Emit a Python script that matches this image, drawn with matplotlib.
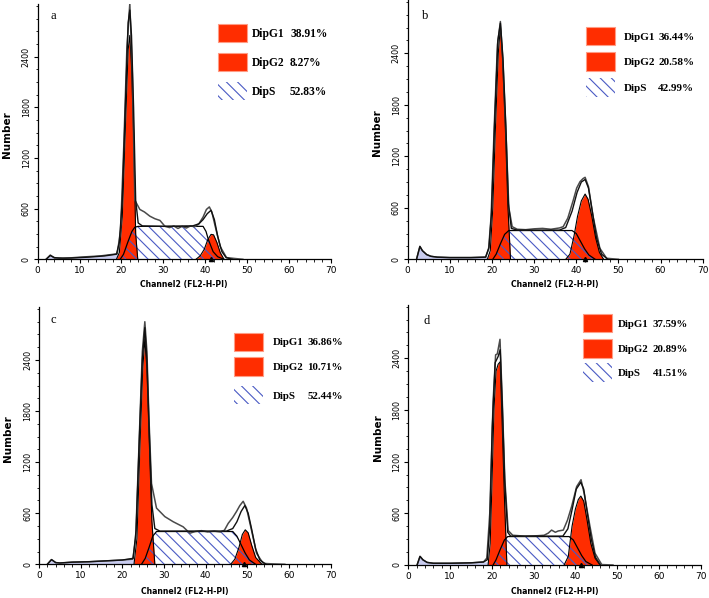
import matplotlib
matplotlib.use("Agg")
import matplotlib.pyplot as plt
from matplotlib.patches import Rectangle
from matplotlib.ticker import MultipleLocator
import numpy as np

plt.rcParams.update({
    "font.family": "DejaVu Sans",
    "axes.linewidth": 0.9,
    "axes.spines.top": False,
    "axes.spines.right": False,
    "hatch.linewidth": 0.8,
    "xtick.direction": "out",
    "ytick.direction": "out",
})

RED, HATCH, DEBRIS_C = "#ff2d00", "#4a5ac4", "#c9ccef"

# ---- cell-cycle histograms, (channel, count) ----
A_DEBRIS = [(2, 0), (3, 45), (4, 20), (5, 15), (8, 15), (12, 25), (16, 40), (19, 60), (20.5, 60), (21.5, 0)]
A_G1 = [(18.8, 0), (19.5, 80), (20.2, 500), (20.9, 1500), (21.6, 2480), (22.0, 2650), (22.4, 2300),
        (22.9, 1500), (23.4, 300), (23.9, 0)]
A_S = [(19.7, 0), (20.5, 60), (21.5, 200), (22.5, 330), (23.2, 380), (24.0, 390), (39.5, 390),
       (40.2, 330), (40.8, 228), (41.9, 90), (43, 30), (44.5, 0)]
A_G2 = [(37.8, 0), (38.8, 40), (39.8, 120), (40.6, 230), (41.4, 295), (42.0, 290), (42.8, 200),
        (43.6, 80), (44.5, 0)]
A_DATA = [(2, 0), (3, 50), (4, 15), (5, 15), (6, 10), (10, 25), (15, 40), (19, 65), (19.8, 350),
          (20.6, 1400), (21.3, 2500), (22, 3030), (22.6, 2200), (23.2, 700), (24.4, 590), (25.5, 560),
          (26.8, 510), (28, 480), (29.2, 460), (30.4, 390), (31.5, 375), (32.5, 395), (33.5, 365),
          (34.5, 390), (35.5, 370), (36.5, 395), (37.5, 385), (38.5, 420), (39.5, 500), (40.3, 590),
          (41.0, 620), (41.6, 560), (42.4, 390), (43.6, 150), (45.1, 20), (47, 10), (49, 0)]
A_FIT = [(2, 0), (3, 45), (4, 20), (5, 15), (8, 15), (12, 25), (16, 40), (18.8, 60), (19.5, 200),
         (20.2, 700), (20.9, 1750), (21.6, 2800), (22.0, 2950), (22.4, 2650), (22.9, 1800), (23.4, 700),
         (24.0, 430), (25, 395), (30, 390), (37, 395), (38.5, 420), (39.5, 470), (40.5, 540),
         (41.4, 580), (42.2, 470), (43.0, 270), (44.0, 90), (45, 20), (46.5, 0)]

B_DEBRIS = [(2.1, 0), (2.9, 150), (3.5, 100), (4.5, 55), (5.5, 35), (7, 25), (10, 20), (15, 20),
            (18.5, 25), (20, 30), (21, 0)]
B_G1 = [(18.9, 0), (19.6, 100), (20.2, 600), (20.8, 1500), (21.5, 2400), (22.0, 2720), (22.5, 2350),
        (23.2, 1500), (23.8, 600), (24.4, 0)]
B_S = [(20.2, 0), (21, 60), (22, 180), (23, 290), (24, 335), (39, 335), (40, 300), (41, 210),
       (42, 120), (43, 50), (44.5, 0)]
B_G2 = [(37.5, 0), (38.5, 60), (39.5, 280), (40.3, 500), (41.2, 680), (42.1, 760), (42.8, 700),
        (43.7, 500), (44.6, 250), (45.5, 80), (46.5, 0)]
B_DATA = [(2.1, 0), (2.9, 150), (3.5, 100), (4.5, 55), (5.5, 35), (7, 25), (10, 20), (15, 20),
          (18.5, 25), (19.2, 120), (19.8, 500), (20.5, 1500), (21.3, 2500), (22.0, 2770), (22.6, 2300),
          (23.3, 1500), (24.0, 600), (24.8, 380), (26, 350), (28, 345), (30, 355), (32, 360), (34, 350),
          (36, 365), (36.9, 380), (38, 480), (39.3, 690), (40.1, 830), (40.9, 905), (41.6, 940),
          (42.1, 955), (42.9, 846), (44.0, 496), (45.6, 128), (47.2, 12), (50, 0)]
B_FIT = [(2.1, 0), (2.9, 150), (3.5, 100), (4.5, 55), (5.5, 35), (7, 25), (10, 20), (15, 20),
         (18.5, 25), (19.3, 140), (19.9, 550), (20.6, 1550), (21.4, 2550), (22.0, 2750), (22.6, 2350),
         (23.3, 1550), (23.9, 650), (24.6, 360), (26, 340), (36, 340), (37.5, 370), (39, 560),
         (40.2, 780), (41.2, 900), (42.1, 930), (42.9, 830), (43.8, 560), (44.8, 250), (46, 60), (47.5, 0)]

C_DEBRIS = [(2, 0), (3, 55), (4, 20), (5, 15), (8, 25), (12, 30), (16, 40), (20, 50), (22.5, 60),
            (23.5, 80), (24.5, 0)]
C_G1 = [(22.8, 0), (23.5, 300), (24.2, 1350), (24.9, 2300), (25.4, 2650), (25.9, 2300), (26.5, 1400),
        (27.1, 500), (27.8, 0)]
C_S = [(24.6, 0), (25.5, 70), (26.5, 210), (27.3, 330), (28.2, 385), (46.5, 385), (47.5, 330),
       (48.5, 230), (49.5, 130), (50.5, 50), (52, 0)]
C_G2 = [(46, 0), (47, 60), (48, 200), (48.8, 350), (49.5, 405), (50.2, 370), (51, 230), (52, 80),
        (53.5, 0)]
C_DATA = [(2, 0), (3, 55), (4, 20), (5, 15), (8, 25), (12, 30), (16, 40), (20, 50), (22.5, 60),
          (23.2, 300), (24.0, 1400), (24.8, 2500), (25.4, 2850), (25.9, 2500), (26.4, 1700), (27.0, 950),
          (28.2, 660), (30.2, 560), (32.2, 500), (34.6, 440), (36.2, 365), (37.5, 385), (39, 395),
          (40.5, 380), (42, 390), (43.5, 380), (44.5, 400), (45.4, 480), (46.5, 550), (47.4, 620),
          (48.2, 690), (49.0, 740), (49.8, 660), (51.0, 400), (52.2, 130), (53.8, 10), (56, 5), (59, 0)]
C_FIT = [(2, 0), (3, 55), (4, 20), (5, 15), (8, 25), (12, 30), (16, 40), (20, 50), (22.6, 70),
         (23.3, 400), (24.1, 1500), (24.8, 2400), (25.4, 2780), (25.9, 2400), (26.5, 1500), (27.1, 700),
         (27.8, 420), (29, 390), (45, 390), (46.5, 420), (47.5, 500), (48.5, 620), (49.4, 690),
         (50.2, 600), (51, 420), (52, 180), (53, 50), (54.5, 0)]

D_DEBRIS = [(2.1, 0), (2.8, 100), (3.5, 60), (4.5, 30), (6, 20), (10, 20), (15, 25), (18, 35),
            (19.5, 40), (20.5, 0)]
D_G1 = [(19.1, 0), (19.6, 250), (20.0, 900), (20.5, 1800), (21.0, 2250), (21.5, 2330), (22.0, 2360),
        (22.5, 1600), (23.0, 800), (23.6, 0)]
D_S = [(20.3, 0), (21, 60), (22, 180), (23, 290), (23.8, 330), (38.5, 330), (39.5, 290), (40.5, 200),
       (41.5, 110), (42.5, 40), (44, 0)]
D_G2 = [(37.3, 0), (38.3, 100), (39.2, 450), (40.0, 650), (40.7, 760), (41.3, 800), (42.0, 740),
        (42.8, 520), (43.7, 250), (44.7, 80), (45.9, 0)]
D_DATA = [(2.1, 0), (2.8, 100), (3.5, 60), (4.5, 30), (6, 20), (10, 20), (15, 25), (18, 35),
          (18.8, 80), (19.5, 600), (20.3, 1900), (20.9, 2440), (21.3, 2450), (21.95, 2620), (22.5, 1900),
          (23.1, 1000), (23.9, 400), (25, 345), (28, 335), (31, 340), (32.5, 345), (33.5, 370),
          (34.3, 405), (35.2, 380), (35.9, 395), (37.1, 405), (38.1, 520), (39.1, 680), (40.3, 910),
          (41.35, 990), (42.1, 830), (43.5, 445), (44.7, 136), (46.3, 5), (49, 0)]
D_FIT = [(2.1, 0), (2.8, 100), (3.5, 60), (4.5, 30), (6, 20), (10, 20), (15, 25), (18, 35),
         (18.9, 60), (19.5, 450), (20.1, 1600), (20.8, 2350), (21.5, 2420), (22.0, 2500), (22.5, 1850),
         (23.1, 950), (23.8, 380), (24.5, 335), (37, 335), (38.2, 420), (39.2, 640), (40.2, 880),
         (41.3, 960), (42.0, 880), (42.8, 620), (43.8, 300), (44.8, 90), (46, 0)]

LETTERS = ["a", "b", "c", "d"]
PCT_G1 = ["38.91%", "36.44%", "36.86%", "37.59%"]
PCT_G2 = ["8.27%", "20.58%", "10.71%", "20.89%"]
PCT_S = ["52.83%", "42.99%", "52.44%", "41.51%"]
G2_MEAN = [41.3, 42.0, 49.3, 41.3]

PANELS = [
    (A_DEBRIS, A_G1, A_S, A_G2, A_DATA, A_FIT),
    (B_DEBRIS, B_G1, B_S, B_G2, B_DATA, B_FIT),
    (C_DEBRIS, C_G1, C_S, C_G2, C_DATA, C_FIT),
    (D_DEBRIS, D_G1, D_S, D_G2, D_DATA, D_FIT),
]

# layout (figure / axes fractions)
RECTS = [(0.0532, 0.5664, 0.4133, 0.4266), (0.575, 0.5664, 0.4161, 0.4335),
         (0.055, 0.0564, 0.4114, 0.4298), (0.5759, 0.0552, 0.4124, 0.435)]
LEG_X = [0.615, 0.604, 0.6695, 0.5985]
LEG_BOT = [(0.852, 0.738, 0.624), (0.827, 0.728, 0.627), (0.831, 0.734, 0.623), (0.895, 0.797, 0.705)]
NAME_X = [0.732, 0.734, 0.803, 0.718]
PCT_X = [0.861, 0.849, 0.920, 0.836]
LEG_FS = [8.3, 8.0, 7.8, 7.8]
LETTER_XY = [(0.042, 0.977), (0.047, 0.962), (0.038, 0.974), (0.051, 0.961)]
XLAB_Y = [-0.098, -0.099, -0.107, -0.100]


def xy(pts):
    a = np.array(pts, dtype=float)
    return a[:, 0], a[:, 1]


fig = plt.figure(figsize=(7.09, 5.98), dpi=100)
for i, (deb, g1, s, g2, dat, fit) in enumerate(PANELS):
    ax = fig.add_axes(RECTS[i])
    x, y = xy(deb)
    ax.fill_between(x, y, color=DEBRIS_C, lw=0, zorder=1)
    for comp in (g1, g2):
        x, y = xy(comp)
        ax.fill_between(x, y, color=RED, lw=0, zorder=2)
        ax.plot(x, y, color="black", lw=0.8, zorder=4)
    x, y = xy(s)
    ax.fill_between(x, y, facecolor="none", edgecolor=HATCH, hatch="\\\\\\", lw=0, zorder=3)
    ax.plot(x, y, color="black", lw=0.9, zorder=4)
    x, y = xy(dat)
    ax.plot(x, y, color="#4a4a4a", lw=1.1, zorder=5)
    x, y = xy(fit)
    ax.plot(x, y, color="#111111", lw=1.0, zorder=6)
    ax.plot([G2_MEAN[i]], [0], marker="^", ms=3, color="black", clip_on=False, zorder=7)

    ax.set_xlim(0, 70)
    ax.set_ylim(0, 3020)
    ax.xaxis.set_major_locator(MultipleLocator(10))
    ax.xaxis.set_minor_locator(MultipleLocator(2))
    ax.yaxis.set_minor_locator(MultipleLocator(150))
    ax.set_yticks([0, 600, 1200, 1800, 2400])
    ax.tick_params(axis="x", which="major", length=3, width=0.8, pad=2, labelsize=6.5)
    ax.tick_params(axis="y", which="major", length=3, width=0.8, pad=2, labelsize=5.8)
    ax.tick_params(which="minor", length=1.8, width=0.6)
    for lab in ax.get_yticklabels():
        lab.set_rotation(90)
        lab.set_va("center")
    ax.set_ylabel("Number", fontweight="bold", fontsize=7.5, va="center")
    ax.yaxis.set_label_coords(-0.105, 0.49)
    ax.set_xlabel("Channel2 (FL2-H-PI)", fontweight="bold", fontsize=5.6, va="center")
    ax.xaxis.set_label_coords(0.5, XLAB_Y[i])

    ax.text(*LETTER_XY[i], LETTERS[i], transform=ax.transAxes, family="Liberation Serif",
            fontsize=9, va="top", ha="left")
    h, w = 0.0706, 0.099
    names = ["DipG1", "DipG2", "DipS"]
    pcts = [PCT_G1[i], PCT_G2[i], PCT_S[i]]
    for k, b in enumerate(LEG_BOT[i]):
        if k < 2:
            ax.add_patch(Rectangle((LEG_X[i], b), w, h, transform=ax.transAxes,
                                   facecolor=RED, edgecolor="#ff9c85", lw=0.8, clip_on=False))
        else:
            ax.add_patch(Rectangle((LEG_X[i], b), w, h, transform=ax.transAxes, facecolor="white",
                                   edgecolor=HATCH, hatch="\\\\\\", lw=0, clip_on=False))
        ty = b + h / 2 - 0.005
        ax.text(NAME_X[i], ty, names[k], transform=ax.transAxes, family="Liberation Serif",
                fontweight="bold", fontsize=LEG_FS[i], va="center")
        ax.text(PCT_X[i], ty, pcts[k], transform=ax.transAxes, family="Liberation Serif",
                fontweight="bold", fontsize=LEG_FS[i], va="center")

fig.savefig("out.png", dpi=100, facecolor="white")
